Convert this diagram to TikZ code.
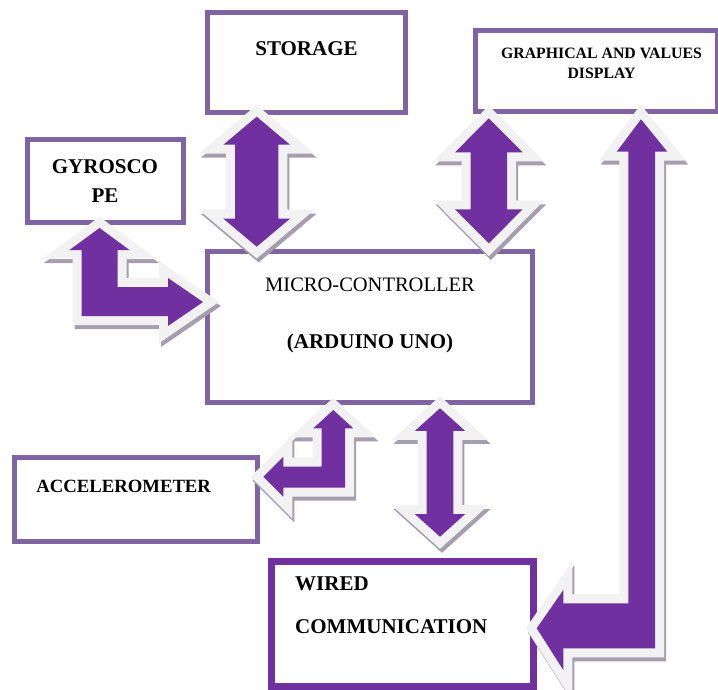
\documentclass[tikz,border=0pt]{standalone}
\usepackage{fontspec}
\setmainfont{Liberation Serif}
\usetikzlibrary{positioning}
\definecolor{boxline}{HTML}{8064A2}
\definecolor{arrowpurple}{HTML}{7030A0}
\definecolor{arrowrim}{HTML}{F2F2F2}
\definecolor{arrowshade}{HTML}{A59EAF}
\tikzset{
  blockbox/.style={draw=boxline,line width=5pt,rectangle,inner sep=0pt},
  blockarrow/.style={fill=arrowpurple,
    preaction={draw=arrowshade,fill=arrowshade,line width=18pt,
      transform canvas={xshift=2pt,yshift=-4pt}},
    preaction={draw=arrowrim,line width=18pt}},
  lbl/.style={inner sep=0pt,font=\fontsize{21}{25}\selectfont\bfseries}
}
\newcommand{\dblarrow}[6]{% {x}{y top}{length}{head half}{stem half}{head length}
  \begin{scope}[shift={(#1,#2)}]
    \path[blockarrow] (0,0) -- (#4,#6) -- (#5,#6) -- (#5,#3-#6) -- (#4,#3-#6)
      -- (0,#3) -- (-#4,#3-#6) -- (-#5,#3-#6) -- (-#5,#6) -- (-#4,#6) -- cycle;
  \end{scope}
}
\begin{document}
\begin{tikzpicture}[x=1pt,y=-1pt]
  \useasboundingbox (0,0) rectangle (718,689);
  % Boxes
  \node[blockbox,minimum width=198pt,minimum height=100pt] (storage) at (306.5,62.5) {};
  \node[blockbox,minimum width=242pt,minimum height=81pt] (display) at (596.5,71) {};
  \node[blockbox,minimum width=156pt,minimum height=83pt] (gyro) at (105.5,181) {};
  \node[blockbox,minimum width=325pt,minimum height=151pt] (mcu) at (370,327) {};
  \node[blockbox,minimum width=243pt,minimum height=84pt] (accel) at (136,499.5) {};
  \node[blockbox,draw=arrowpurple,line width=6.5pt,minimum width=262pt,minimum height=125pt] (wired) at (402.5,624) {};
  % Labels
  \node[lbl,anchor=base] (storage-txt) at (306.5,55) {STORAGE};
  \node[lbl,align=center,font=\fontsize{15.8}{20.5}\selectfont\bfseries] (display-txt) at (601.5,63.3) {GRAPHICAL AND VALUES\\DISPLAY};
  \node[lbl,align=center,font=\fontsize{21}{28.5}\selectfont\bfseries] (gyro-txt) at (105,180.8) {GYROSCO\\PE};
  \node[lbl,anchor=base,font=\fontsize{20.5}{25}\selectfont] (mcu-txt) at (370,291.7) {MICRO-CONTROLLER};
  \node[lbl,anchor=base] (mcu-model) at (370,348) {(ARDUINO UNO)};
  \node[lbl,anchor=base,font=\fontsize{18.7}{22}\selectfont\bfseries] (accel-txt) at (123.7,492.7) {ACCELEROMETER};
  \node[lbl,anchor=west,align=left,font=\fontsize{21}{42.6}\selectfont\bfseries] (wired-txt) at (295,605.2) {WIRED\\COMMUNICATION};
  % Double arrows
  \dblarrow{256.7}{116.7}{130}{33.3}{21.7}{28}
  \dblarrow{488.8}{118.3}{125}{33.8}{18.3}{34}
  \dblarrow{440}{408.3}{128.4}{25}{13.3}{22.5}
  % Gyroscope bent arrow
  \path[blockarrow] (99.5,228) -- (129.5,250) -- (117.5,250) -- (117.5,287) -- (168,287)
    -- (168,278) -- (203,302) -- (168,326) -- (168,316) -- (81.5,316) -- (81.5,250)
    -- (69.5,250) -- cycle;
  % Accelerometer bent arrow
  \path[blockarrow] (333.3,410) -- (353.3,428.3) -- (345,428.3) -- (345,487.7) -- (283.3,487.7)
    -- (283.3,496.7) -- (263.3,476.7) -- (283.3,456.7) -- (283.3,466.7) -- (321.7,466.7)
    -- (321.7,428.3) -- (313.3,428.3) -- cycle;
  % Display to wired arrow
  \path[blockarrow] (641,119.3) -- (667.3,151.7) -- (655,151.7) -- (655,648.3) -- (563.3,648.3)
    -- (563.3,670) -- (536.7,628.3) -- (563.3,590) -- (563.3,603.3) -- (628.3,603.3)
    -- (628.3,151.7) -- (616.7,151.7) -- cycle;
\end{tikzpicture}
\end{document}
